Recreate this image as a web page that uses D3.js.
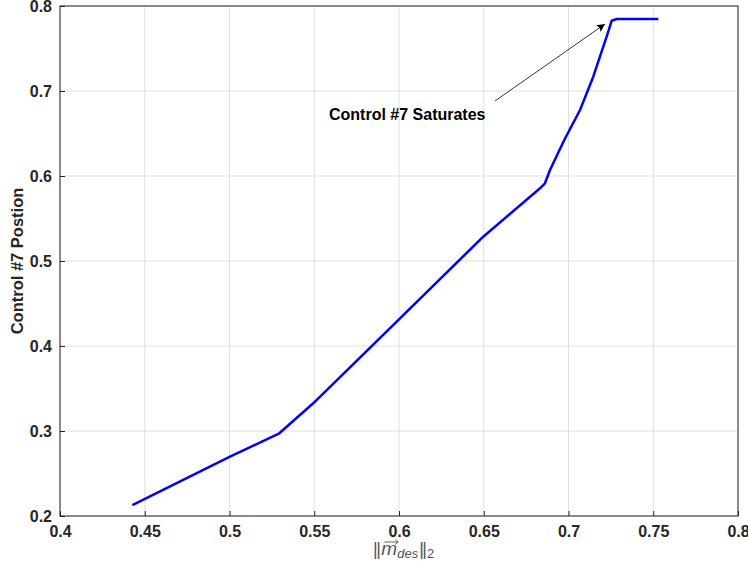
<!DOCTYPE html>
<html>
<head>
<meta charset="utf-8">
<script src="https://cdn.jsdelivr.net/npm/d3@7"></script>
<style>
body { margin: 0; background: #fff; }
#chart { width: 748px; height: 573px; }
text { font-family: Arial, "Liberation Sans", Helvetica, sans-serif; }
</style>
</head>
<body>
<div id="chart"></div>
<script>

// curve
var normValues = [0.4427, 0.5003, 0.5294, 0.5494, 0.6006, 0.6497, 0.6832, 0.6861, 0.6891, 0.6975, 0.7068, 0.7146, 0.7225, 0.7255, 0.7284, 0.7530];
var positionValues = [0.2129, 0.2698, 0.2973, 0.3326, 0.4326, 0.5286, 0.5855, 0.5914, 0.6071, 0.6424, 0.6776, 0.7168, 0.7639, 0.7827, 0.7847, 0.7847];

var xTicks = [0.4, 0.45, 0.5, 0.55, 0.6, 0.65, 0.7, 0.75, 0.8];
var yTicks = [0.2, 0.3, 0.4, 0.5, 0.6, 0.7, 0.8];

var annotationText = "Control #7 Saturates";
var annotationFrom = [0.6566, 0.6882];   // tail of arrow (x, y)
var annotationTo = [0.7215, 0.7788];     // arrow tip

var width = 748, height = 573;
var margin = {left: 60, right: 10, top: 6, bottom: 57};

var svg = d3.select("#chart")
    .append("svg")
    .attr("width", width)
    .attr("height", height);

var x = d3.scaleLinear()
    .domain([0.4, 0.8])
    .range([margin.left, width - margin.right]);

var y = d3.scaleLinear()
    .domain([0.2, 0.8])
    .range([height - margin.bottom, margin.top]);

// grid
svg.append("g")
    .selectAll("line")
    .data(xTicks)
    .enter()
    .append("line")
    .attr("x1", function(d){ return x(d); })
    .attr("x2", function(d){ return x(d); })
    .attr("y1", y(0.2))
    .attr("y2", y(0.8))
    .attr("stroke", "#dfdfdf")
    .attr("stroke-width", 1);

svg.append("g")
    .selectAll("line")
    .data(yTicks)
    .enter()
    .append("line")
    .attr("x1", x(0.4))
    .attr("x2", x(0.8))
    .attr("y1", function(d){ return y(d); })
    .attr("y2", function(d){ return y(d); })
    .attr("stroke", "#dfdfdf")
    .attr("stroke-width", 1);

// axes
var xAxis = d3.axisBottom(x)
    .tickValues(xTicks)
    .tickSize(-5)
    .tickPadding(10)
    .tickFormat(function(d){ return d3.format("")(+d.toFixed(2)); });

var yAxis = d3.axisLeft(y)
    .tickValues(yTicks)
    .tickSize(-5)
    .tickPadding(8)
    .tickFormat(function(d){ return d3.format("")(+d.toFixed(1)); });

var gx = svg.append("g")
    .attr("transform", "translate(0," + y(0.2) + ")")
    .call(xAxis);

var gy = svg.append("g")
    .attr("transform", "translate(" + x(0.4) + ",0)")
    .call(yAxis);

[gx, gy].forEach(function(g){
    g.select(".domain").remove();
    g.selectAll("line").attr("stroke", "#262626");
    g.selectAll("text")
        .attr("fill", "#262626")
        .attr("font-size", "16px")
        .attr("font-weight", "bold")
        .attr("font-family", "Arial, 'Liberation Sans', sans-serif");
});

// box
svg.append("rect")
    .attr("x", x(0.4))
    .attr("y", y(0.8))
    .attr("width", x(0.8) - x(0.4))
    .attr("height", y(0.2) - y(0.8))
    .attr("fill", "none")
    .attr("stroke", "#262626")
    .attr("stroke-width", 1);

// the curve
var points = normValues.map(function(v, i){ return [v, positionValues[i]]; });

var line = d3.line()
    .x(function(d){ return x(d[0]); })
    .y(function(d){ return y(d[1]); });

svg.append("path")
    .datum(points)
    .attr("d", line)
    .attr("fill", "none")
    .attr("stroke", "#0000ff")
    .attr("stroke-width", 2.5)
    .attr("stroke-linejoin", "round");

// annotation arrow
svg.append("defs")
    .append("marker")
    .attr("id", "head")
    .attr("viewBox", "0 0 10 10")
    .attr("refX", 10)
    .attr("refY", 5)
    .attr("markerWidth", 11)
    .attr("markerHeight", 8)
    .attr("markerUnits", "userSpaceOnUse")
    .attr("orient", "auto")
    .append("path")
    .attr("d", "M0,0 L10,5 L0,10 L2,5 Z")
    .attr("fill", "#000");

svg.append("line")
    .attr("x1", x(annotationFrom[0]))
    .attr("y1", y(annotationFrom[1]))
    .attr("x2", x(annotationTo[0]))
    .attr("y2", y(annotationTo[1]))
    .attr("stroke", "#000")
    .attr("stroke-width", 0.8)
    .attr("marker-end", "url(#head)");

svg.append("text")
    .attr("x", 329)
    .attr("y", 120)
    .attr("font-size", "16px")
    .attr("font-weight", "bold")
    .attr("fill", "#000")
    .text(annotationText);

// axis labels
svg.append("text")
    .attr("transform", "translate(23," + (margin.top + (height - margin.bottom - margin.top)/2) + ") rotate(-90)")
    .attr("text-anchor", "middle")
    .attr("font-size", "16.5px")
    .attr("font-weight", "bold")
    .attr("fill", "#262626")
    .text("Control #7 Postion");

// x label: ||m_des||_2 with a vector arrow over the m
var serif = "'Liberation Serif', 'DejaVu Serif', serif";
var xl = svg.append("text")
    .attr("x", 373)
    .attr("y", 555)
    .attr("font-family", serif)
    .attr("fill", "#555");

xl.append("tspan").attr("font-size", "18px").attr("letter-spacing", "-1.5px").text("||");
xl.append("tspan").attr("font-size", "19px").attr("font-style", "italic").attr("dx", 2).text("m");
xl.append("tspan").attr("font-size", "13px").attr("font-style", "italic").attr("dy", 3).text("des");
xl.append("tspan").attr("font-size", "18px").attr("letter-spacing", "-1.5px").attr("dy", -3).attr("dx", 1).text("||");
xl.append("tspan").attr("font-size", "13px").attr("dy", 3).attr("dx", 1.5).text("2");

var node = xl.node();
var mStart = node.getStartPositionOfChar(2).x;
var mEnd = node.getEndPositionOfChar(2).x;
var ax0 = mStart + 3, ax1 = mEnd + 1, ay = 542;
svg.append("path")
    .attr("d", "M" + ax0 + "," + ay + " L" + ax1 + "," + ay + " M" + (ax1 - 3) + "," + (ay - 2.5) + " L" + ax1 + "," + ay + " L" + (ax1 - 3) + "," + (ay + 2.5))
    .attr("fill", "none")
    .attr("stroke", "#555")
    .attr("stroke-width", 0.9);

</script>
</body>
</html>
